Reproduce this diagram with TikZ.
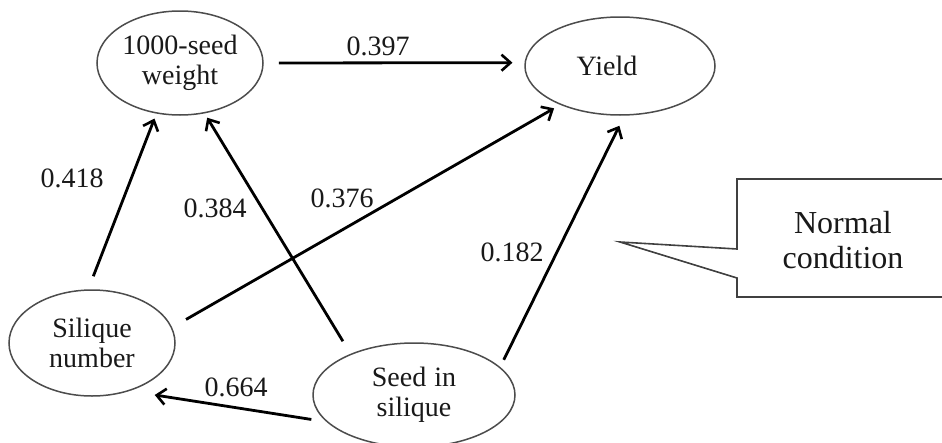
\documentclass[tikz,border=0pt]{standalone}
\usepackage{fontspec}
\setmainfont{Liberation Serif}
\usetikzlibrary{shapes.geometric,arrows.meta}
\begin{document}
\begin{tikzpicture}[x=1pt,y=-1pt,
  ell/.style={ellipse,draw=black!70,line width=1.5pt,inner sep=0pt,align=center,
    font=\fontsize{28}{30}\selectfont,text=black!90},
  arr/.style={-{Straight Barb[length=9pt,width=16pt,line width=2.6pt]},line width=2.8pt,draw=black},
  num/.style={font=\fontsize{28}{30}\selectfont,inner sep=0pt,text=black!90}]
\useasboundingbox (0,0) rectangle (942,442);
\clip (0,0) rectangle (942,442);
\fill[white] (0,0) rectangle (942,442);
% variables
\node[ell,minimum width=166pt,minimum height=104pt] (W) at (180,63) {1000-seed\\weight};
\node[ell,minimum width=190pt,minimum height=98pt] (Y) at (620,66) {Yield\hspace*{26pt}};
\node[ell,minimum width=166pt,minimum height=106pt] (S) at (92,343) {Silique\\number};
\node[ell,minimum width=202pt,minimum height=104pt] (D) at (414,395) {Seed\hspace{8pt}in\\silique};
% paths
\draw[arr,shorten <=15pt,shorten >=12pt] (W.east) -- (Y.178);
\draw[arr,shorten <=14pt,shorten >=5.3pt] (S.94.3) -- (W.245.3);
\draw[arr,shorten <=14.7pt,shorten >=5pt] (D.147.5) -- (W.296.1);
\draw[arr,shorten <=16pt,shorten >=7pt] (S.11.5) -- (Y.213.2);
\draw[arr,shorten <=8pt,shorten >=11.2pt] (D.18) -- (Y.275.8);
\draw[arr,shorten <=15.2pt,shorten >=25.5pt] (D.197.5) -- (S.308.8);
% coefficients
\node[num] (c397) at (378,46) {0.397};
\node[num] (c418) at (72,178) {0.418};
\node[num] (c384) at (215,208) {0.384};
\node[num] (c376) at (342,198) {0.376};
\node[num] (c182) at (512,252) {0.182};
\node[num] (c664) at (236,387) {0.664};
% callout
\draw[draw=black!75,line width=1.6pt,fill=white,line join=miter]
  (737,179) -- (950,179) -- (950,297) -- (737,297) -- (737,278) -- (620,242) -- (737,249) -- cycle;
\node[font=\fontsize{32}{35}\selectfont,align=center,text=black!90,inner sep=0pt] (cond) at (843,240) {Normal\\condition};
\end{tikzpicture}
\end{document}
